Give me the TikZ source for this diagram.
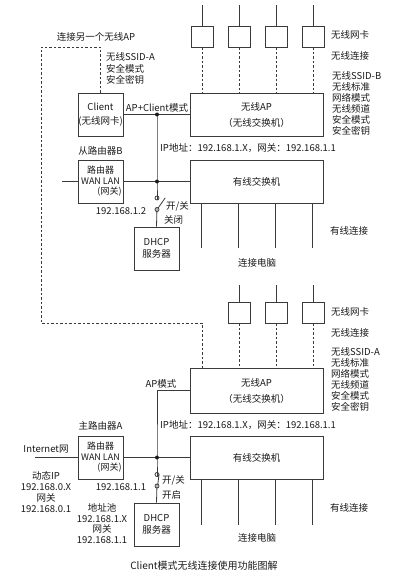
\documentclass[tikz,border=0pt]{standalone}
\usepackage{fontspec}
\setmainfont{Noto Sans CJK SC}
\definecolor{wire}{HTML}{3A3A3A}
\definecolor{ink}{HTML}{1A1A1A}
\tikzset{
  unit/.style={draw=wire,line width=0.8pt,inner sep=0pt,align=center,text=ink,font=\fontsize{9.5}{11.5}\selectfont},
  nic/.style={unit,minimum width=22pt,minimum height=21pt},
  dev/.style={unit,minimum width=45pt,minimum height=43pt},
  hub/.style={unit,minimum width=133pt,minimum height=43pt},
  txt/.style={inner sep=0pt,text=ink,font=\fontsize{9.5}{11}\selectfont},
  list/.style={txt,align=left,anchor=west},
  link/.style={draw=wire,line width=0.8pt},
  air/.style={link,dash pattern=on 2.5pt off 2pt},
  dot/.style={fill=ink},
}
\begin{document}
\begin{tikzpicture}[x=1pt,y=-1pt]
\useasboundingbox (0,0) rectangle (411,580);
% upper part: router B in AP+Client mode
\foreach \n/\x in {1/202,2/239,3/276,4/313}{
  \node[nic] (nicB\n) at (\x,36.5) {};
  \draw[link] (nicB\n.north) -- ++(0,-21);
}
\node[hub] (apB) at (256.5,114.5) {无线AP\\[4.5pt]（无线交换机）};
\foreach \n in {1,...,4}
  \draw[air] (nicB\n.south) -- (nicB\n.south |- apB.north);
\node[dev] (client) at (100.5,114.5) {Client\\[2.5pt](无线网卡)};
\node[dev,font=\fontsize{9}{10.5}\selectfont] (routerB) at (100.5,181.5) {路由器\\WAN LAN\\\hspace*{18pt}(网关)};
\node[hub] (swB) at (256.5,181.5) {有线交换机};
\node[dev] (dhcpB) at (156.5,248.5) {DHCP\\服务器};
\coordinate (jB1) at (157,114.5);
\coordinate (jB2) at (157,181.5);
\coordinate (wanB) at (62,181.5);
\coordinate (swtB1) at (157,198);
\coordinate (swtB2) at (157,209.5);
\draw[link] (client.east) -- (apB.west);
\draw[link] (wanB) -- (routerB.west);
\draw[link] (routerB.east) -- (swB.west);
\draw[link] (jB1) -- (jB2) -- ([yshift=-2pt]swtB1);
\draw[link] (swtB1) circle (2) (swtB2) circle (2);
\draw[link] ([shift={(1.2,-1.6)}]swtB2) -- ++(7,-10);
\draw[link] ([yshift=2pt]swtB2) -- (dhcpB.north);
\fill[dot] (jB1) circle (2) (jB2) circle (2);
\foreach \dx in {12,49,86,123}
  \draw[link] (swB.south west) ++(\dx,0) -- ++(0,45);
% link to the other wireless AP
\coordinate (cornerT) at (41,47);
\coordinate (cornerB) at (41,323);
\coordinate (dashA) at (202,323);
% lower part: router A in AP mode
\foreach \n/\x in {2/239,3/276,4/313}{
  \node[nic] (nicA\n) at (\x,312.5) {};
  \draw[link] (nicA\n.north) -- ++(0,-17);
}
\node[hub,minimum height=45pt] (apA) at (256.5,390.5) {无线AP\\[4.5pt]（无线交换机）};
\foreach \n in {2,3,4}
  \draw[air] (nicA\n.south) -- (nicA\n.south |- apA.north);
\draw[air] (client.north) |- (cornerT) -- (cornerB) -- (dashA) -- (dashA |- apA.north);
\node[dev,font=\fontsize{9}{10.5}\selectfont] (routerA) at (100.5,457.5) {路由器\\WAN LAN\\\hspace*{18pt}(网关)};
\node[hub] (swA) at (256.5,457.5) {有线交换机};
\node[dev] (dhcpA) at (156.5,524.5) {DHCP\\服务器};
\coordinate (jA0) at (157,390.5);
\coordinate (jA1) at (157,457.5);
\coordinate (wanA) at (35,457.5);
\coordinate (swtA1) at (157,474.5);
\coordinate (swtA2) at (157,486);
\draw[link] (apA.west) -- (jA0) -- (jA1) -- ([yshift=-2pt]swtA1);
\draw[link] (wanA) -- (routerA.west);
\draw[link] (routerA.east) -- (swA.west);
\draw[link] (swtA1) circle (2) (swtA2) circle (2);
\draw[link] ([shift={(0.8,-1.8)}]swtA2) -- ([shift={(2,0)}]swtA1);
\draw[link] ([yshift=2pt]swtA2) -- (dhcpA.north);
\fill[dot] (jA1) circle (2);
\foreach \dx in {12,49,86,123}
  \draw[link] (swA.south west) ++(\dx,0) -- ++(0,46);
% labels, upper part
\node[txt] (otherAP) at (96,37) {连接另一个无线AP};
\node[list,font=\fontsize{9.5}{11.5}\selectfont] (ssidA) at (106,68.5) {无线SSID-A\\安全模式\\安全密钥};
\node[txt,anchor=west] (nicBl) at (331,35) {无线网卡};
\node[txt,anchor=west] (airBl) at (331,56) {无线连接};
\node[list] (ssidB) at (332,103.5) {无线SSID-B\\无线标准\\网络模式\\无线频道\\安全模式\\安全密钥};
\node[txt] (modeB) at (157,107.5) {AP+Client模式};
\node[txt,anchor=west] (ipB) at (160,148) {IP地址：192.168.1.X，网关：192.168.1.1};
\node[txt] (nameB) at (100.5,151) {从路由器B};
\node[txt] (addrB) at (121,211) {192.168.1.2};
\node[txt,anchor=west] (swtBl) at (166,206) {开/关};
\node[txt,anchor=west] (offB) at (164,220) {关闭};
\node[txt,anchor=west] (wiredB) at (330,231) {有线连接};
\node[txt] (pcB) at (257,263) {连接电脑};
% labels, lower part
\node[txt,anchor=west] (nicAl) at (331,312) {无线网卡};
\node[txt,anchor=west] (airAl) at (331,333) {无线连接};
\node[list] (ssidA2) at (331,379.5) {无线SSID-A\\无线标准\\网络模式\\无线频道\\安全模式\\安全密钥};
\node[txt] (modeA) at (161,384) {AP模式};
\node[txt,anchor=west] (ipA) at (160,425) {IP地址：192.168.1.X，网关：192.168.1.1};
\node[txt] (nameA) at (100.5,426) {主路由器A};
\node[txt] (inet) at (46,449) {Internet网};
\node[txt,align=center,font=\fontsize{9.5}{11.3}\selectfont] (wanIP) at (46,492) {动态IP\\192.168.0.X\\网关\\192.168.0.1};
\node[txt] (addrA) at (121,487) {192.168.1.1};
\node[txt,anchor=west] (swtAl) at (162,480) {开/关};
\node[txt,anchor=west] (onA) at (162,495) {开启};
\node[txt,align=center,font=\fontsize{9.5}{10.4}\selectfont] (pool) at (102,523.5) {地址池\\192.168.1.X\\网关\\192.168.1.1};
\node[txt,anchor=west] (wiredA) at (330,508) {有线连接};
\node[txt] (pcA) at (257,538) {连接电脑};
\node[txt,font=\fontsize{10}{12}\selectfont] (title) at (204,566) {Client模式无线连接使用功能图解};
\end{tikzpicture}
\end{document}
